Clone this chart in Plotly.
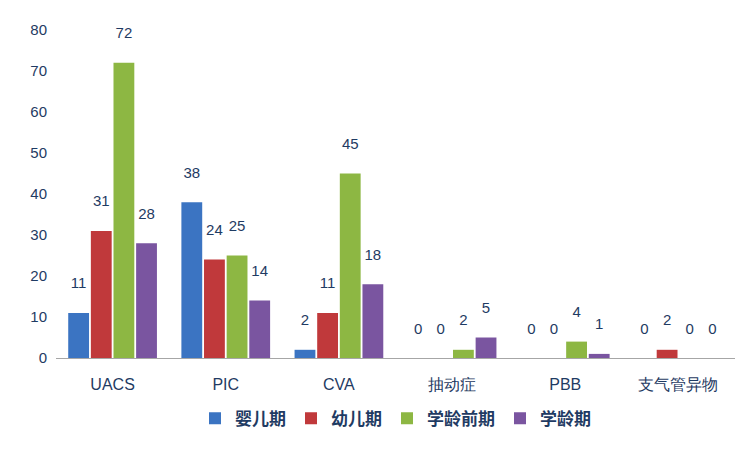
import plotly.graph_objects as go

categories = ["UACS", "PIC", "CVA", "抽动症", "PBB", "支气管异物"]
series_names = ["婴儿期", "幼儿期", "学龄前期", "学龄期"]
infant = [11, 38, 2, 0, 0, 0]
toddler = [31, 24, 11, 0, 0, 2]
preschool = [72, 25, 45, 2, 4, 0]
school = [28, 14, 18, 5, 1, 0]
colors = ["#3B74C2", "#C0393B", "#8DB743", "#7A55A0"]

fig = go.Figure()
for name, vals, c in zip(series_names, [infant, toddler, preschool, school], colors):
    fig.add_trace(go.Bar(
        x=categories, y=vals, name=name, marker=dict(color=c, line=dict(width=0)),
        text=[f"{v}<br><span style='font-size:8px'> </span>" for v in vals],
        textposition="outside", cliponaxis=False,
        textfont=dict(color="#1F3B63", size=15, family="Liberation Sans"),
    ))

fig.update_layout(
    width=751, height=451, barmode="group", bargap=0.2, bargroupgap=0.08,
    plot_bgcolor="white", paper_bgcolor="white",
    margin=dict(l=48, r=24, t=22, b=101, autoexpand=False),
    font=dict(family="Liberation Sans", color="#1F3B63", size=15),
    xaxis=dict(showline=True, linecolor="#A6A6A6", linewidth=1, ticks="",
               ticklabelstandoff=12, automargin=False,
               tickfont=dict(size=16, color="#1F3B63")),
    yaxis=dict(range=[0, 80], dtick=10, showgrid=False, showline=False, ticks="",
               ticklabelstandoff=8, automargin=False,
               tickfont=dict(size=15, color="#1F3B63"), zeroline=False),
    legend=dict(orientation="h", x=0.5, xanchor="center", y=-0.13, yanchor="top",
                font=dict(size=17, color="#1F3B63", family="Noto Sans CJK SC", weight="bold"),
                itemwidth=30),
    uniformtext=dict(minsize=10),
)
fig.write_html("out.html")
